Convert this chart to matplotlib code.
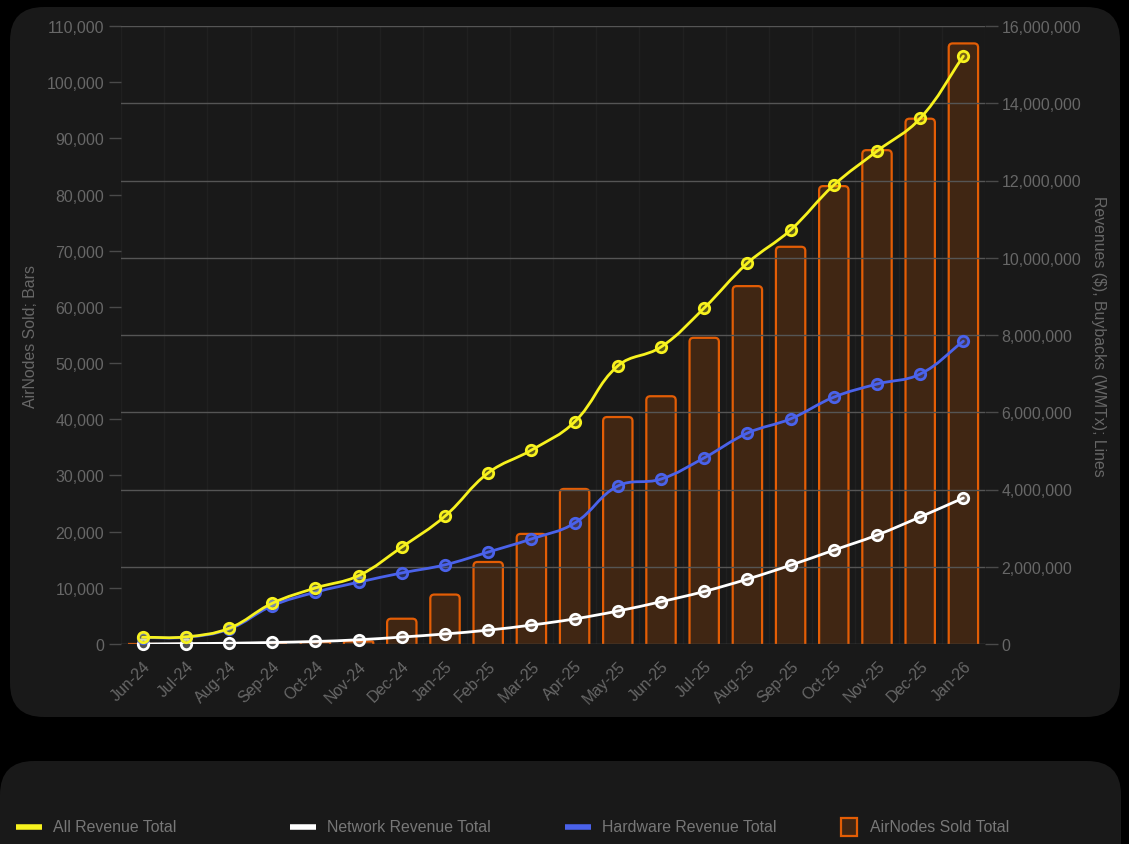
import matplotlib
matplotlib.use("Agg")
import matplotlib.pyplot as plt
from matplotlib.patches import FancyBboxPatch, PathPatch
from matplotlib.path import Path
from matplotlib.lines import Line2D
from matplotlib.ticker import FuncFormatter, MultipleLocator, FixedLocator
import numpy as np

months = ["Jun-24", "Jul-24", "Aug-24", "Sep-24", "Oct-24", "Nov-24", "Dec-24",
          "Jan-25", "Feb-25", "Mar-25", "Apr-25", "May-25", "Jun-25", "Jul-25",
          "Aug-25", "Sep-25", "Oct-25", "Nov-25", "Dec-25", "Jan-26"]

airnodes_sold = [0, 0, 0, 0, 350, 450, 4500, 8800, 14600, 19600, 27600, 40400,
                 44100, 54500, 63700, 70700, 81500, 87900, 93500, 106900]

all_revenue = [173000, 185000, 406000, 1054000, 1450000, 1770000, 2510000, 3310000,
               4430000, 5020000, 5750000, 7200000, 7690000, 8700000, 9860000,
               10720000, 11880000, 12760000, 13610000, 15220000]

hardware_revenue = [165000, 175000, 385000, 990000, 1340000, 1600000, 1840000, 2050000,
                    2380000, 2720000, 3130000, 4090000, 4270000, 4820000, 5460000,
                    5830000, 6390000, 6730000, 6990000, 7840000]

network_revenue = [0, 10000, 20000, 40000, 65000, 110000, 180000, 260000, 360000,
                   490000, 650000, 854000, 1095000, 1360000, 1680000, 2040000,
                   2430000, 2820000, 3290000, 3780000]

W, H = 1129, 845
fig = plt.figure(figsize=(W / 100, H / 100), dpi=100, facecolor="black")
FONT = ["Liberation Sans", "DejaVu Sans"]
plt.rcParams["font.family"] = FONT
FS = 11.4
TXT = "#676767"

panel_col = "#191919"
fig.patches.append(FancyBboxPatch((10 / W, 1 - 718 / H), 1110 / W, 710 / H,
                                  boxstyle="round,pad=0,rounding_size=0.03",
                                  transform=fig.transFigure, facecolor=panel_col,
                                  edgecolor="none", zorder=-10, mutation_aspect=W / H))
fig.patches.append(FancyBboxPatch((0 / W, -40 / H), 1121 / W, (845 - 762 + 40) / H,
                                  boxstyle="round,pad=0,rounding_size=0.03",
                                  transform=fig.transFigure, facecolor=panel_col,
                                  edgecolor="none", zorder=-10, mutation_aspect=W / H))

left, right, bottom, top = 121, 985, 645, 27
ax = fig.add_axes([left / W, 1 - bottom / H, (right - left) / W, (bottom - top) / H])
ax.set_facecolor("none")
ax2 = ax.twinx()
ax2.set_facecolor("none")

x = np.arange(len(months))
ax.set_xlim(-0.5, len(months) - 0.5)
ax.set_ylim(0, 110000)
bars = ax.bar(x, airnodes_sold, width=0.68, facecolor="#402613", edgecolor="#e35d05",
              linewidth=1.6, zorder=2)
# rounded top corners: replace each rectangle by a rounded box of the same extent
px_x = (right - left) / len(months)          # pixels per x unit
py_y = (bottom - top) / 110000.0             # pixels per y unit
for r in bars.patches:
    h = r.get_height()
    if h <= 0:
        continue
    rs = min(4.0, h * py_y / 2.0) / px_x
    fb = FancyBboxPatch((r.get_x(), -h), r.get_width(), 2 * h,
                        boxstyle=f"round,pad=0,rounding_size={rs}",
                        mutation_aspect=px_x / py_y,
                        facecolor="#402613", edgecolor="#e35d05", linewidth=1.6,
                        zorder=2, clip_on=True)
    ax.add_patch(fb)
    r.set_visible(False)

ax.yaxis.set_major_locator(MultipleLocator(10000))
ax.yaxis.set_major_formatter(FuncFormatter(lambda v, p: f"{int(v):,}"))
ax.set_xticks(x)
ax.set_xticklabels(months, rotation=45, ha="right", rotation_mode="anchor")
ax.xaxis.set_minor_locator(FixedLocator(np.arange(-0.5, len(months), 1.0)))
ax.grid(which="minor", axis="x", color="#202020", linewidth=1)
ax.tick_params(axis="x", which="both", length=0, pad=10, colors=TXT, labelsize=FS)
ax.tick_params(axis="y", length=9, width=1, color="#4a4a4a", labelcolor=TXT,
               labelsize=FS, pad=3)
for s in ax.spines.values():
    s.set_visible(False)
ax.set_ylabel("AirNodes Sold; Bars", color=TXT, fontsize=FS, labelpad=6)

ax2.set_ylim(0, 16000000)
ax2.yaxis.set_major_locator(MultipleLocator(2000000))
ax2.yaxis.set_major_formatter(FuncFormatter(lambda v, p: f"{int(v):,}"))
ax2.tick_params(axis="y", length=9, width=1, color="#4a4a4a", labelcolor=TXT,
                labelsize=FS, pad=3)
ax2.grid(axis="y", color="#555555", linewidth=1, zorder=1)
for s in ax2.spines.values():
    s.set_visible(False)
ax2.set_ylabel("Revenues ($), Buybacks (WMTx); Lines", color=TXT, fontsize=FS,
               rotation=270, labelpad=18)


def smooth_path(xs, ys, axis, tension=0.4):
    """Chart.js style bezier through the points, computed in pixel space."""
    pts = axis.transData.transform(np.column_stack([xs, ys]))
    n = len(pts)
    cp_prev, cp_next = [None] * n, [None] * n
    for i in range(n):
        p0 = pts[i - 1] if i > 0 else pts[i]
        p1 = pts[i]
        p2 = pts[i + 1] if i < n - 1 else pts[i]
        d01 = np.hypot(*(p1 - p0))
        d12 = np.hypot(*(p2 - p1))
        tot = d01 + d12
        s01 = d01 / tot if tot else 0
        s12 = d12 / tot if tot else 0
        cp_prev[i] = p1 - tension * s01 * (p2 - p0)
        cp_next[i] = p1 + tension * s12 * (p2 - p0)
    verts = [pts[0]]
    codes = [Path.MOVETO]
    for i in range(n - 1):
        verts += [cp_next[i], cp_prev[i + 1], pts[i + 1]]
        codes += [Path.CURVE4] * 3
    verts = axis.transData.inverted().transform(np.array(verts))
    return Path(verts, codes)


series = [(network_revenue, "#ffffff", (1, 1, 1, 0.25)),
          (hardware_revenue, "#4a62ea", (0.29, 0.38, 0.92, 0.3)),
          (all_revenue, "#f7f21e", (0.97, 0.95, 0.12, 0.3))]
for k, (vals, col, fc) in enumerate(series):
    pp = PathPatch(smooth_path(x, vals, ax2), facecolor="none", edgecolor=col,
                   linewidth=2, zorder=5 + k, capstyle="round", joinstyle="round")
    ax2.add_patch(pp)
    ax2.plot(x, vals, linestyle="none", marker="o", markersize=7.5,
             markerfacecolor=fc, markeredgecolor=col, markeredgewidth=2,
             zorder=5 + k, clip_on=False)

ly = 1 - 828 / H
items = [(16, "All Revenue Total", "line", "#f7f21e"),
         (290, "Network Revenue Total", "line", "#ffffff"),
         (565, "Hardware Revenue Total", "line", "#4a62ea"),
         (841, "AirNodes Sold Total", "box", "#e35d05")]
for xs, label, kind, col in items:
    if kind == "line":
        fig.add_artist(Line2D([xs / W, (xs + 26) / W], [ly, ly], color=col, linewidth=4,
                              transform=fig.transFigure, solid_capstyle="butt"))
        tx = xs + 37
    else:
        fig.patches.append(plt.Rectangle((xs / W, 1 - 837 / H), 16 / W, 18 / H,
                                         transform=fig.transFigure, facecolor="#402613",
                                         edgecolor=col, linewidth=1.6))
        tx = xs + 29
    fig.text(tx / W, ly, label, color="#777777", fontsize=FS, va="center", ha="left")

fig.savefig("out.png", dpi=100, facecolor="black")
